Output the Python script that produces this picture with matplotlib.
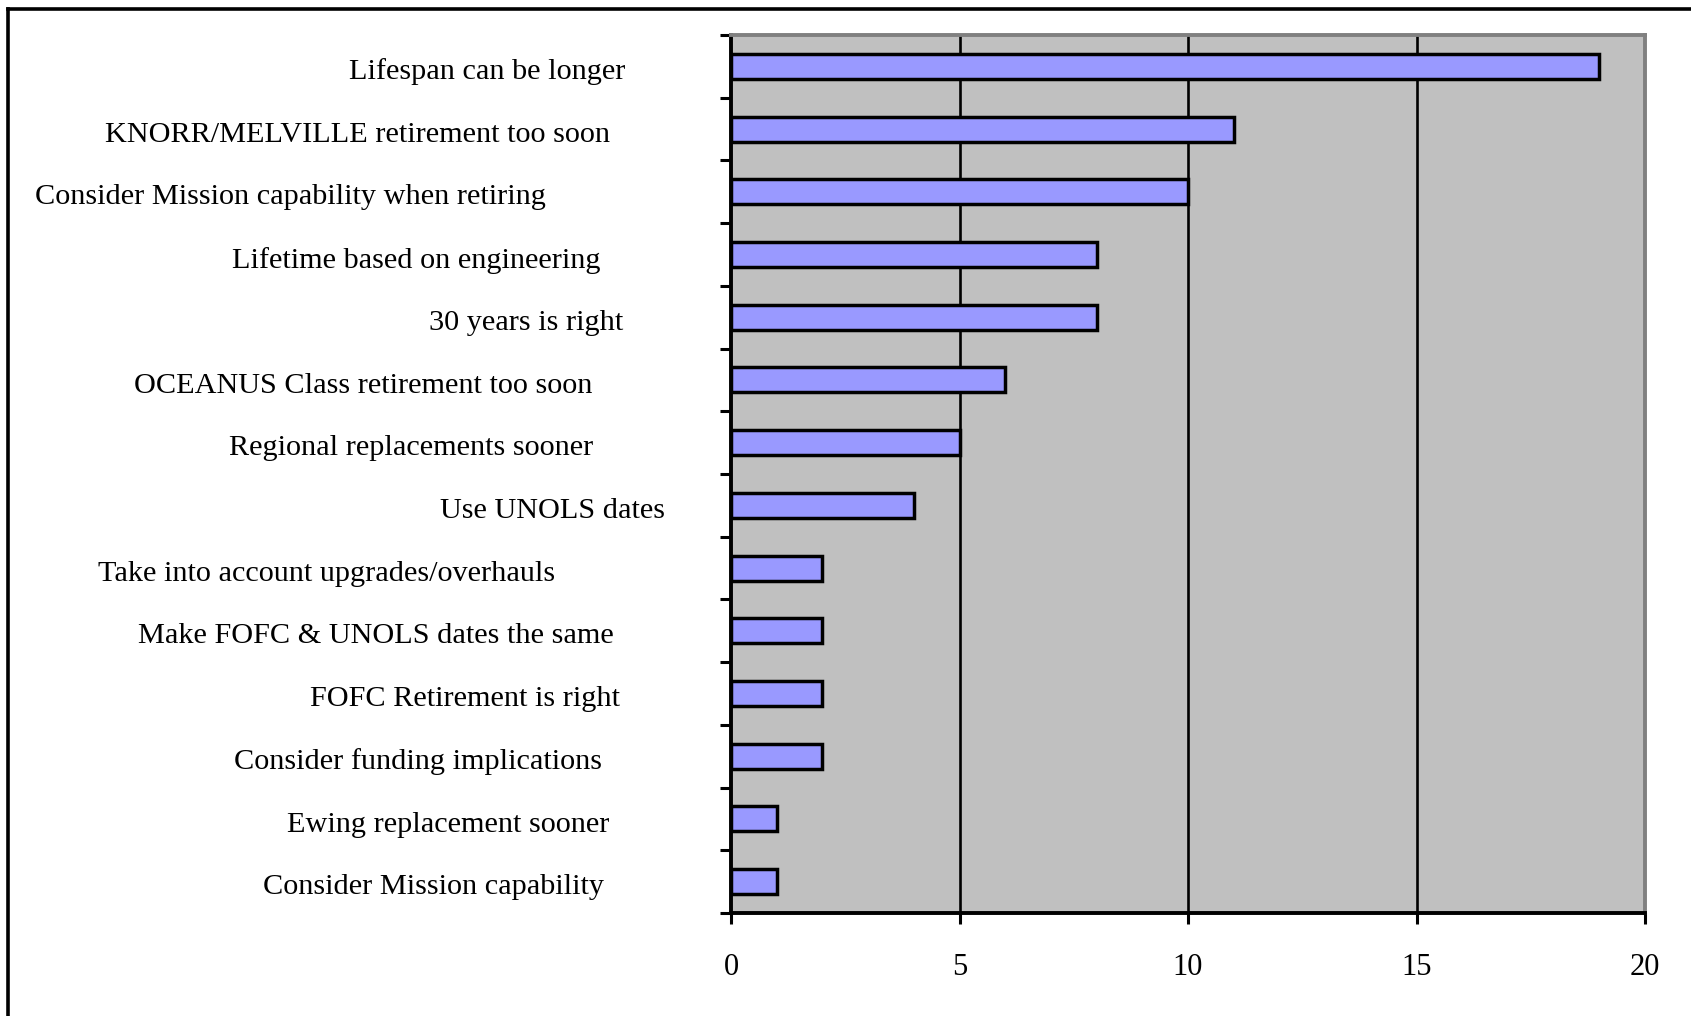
import matplotlib.pyplot as plt
from matplotlib.lines import Line2D
import numpy as np

plt.rcParams['font.family'] = ['Liberation Serif', 'DejaVu Serif']

comments = [
    "Lifespan can be longer",
    "KNORR/MELVILLE retirement too soon",
    "Consider Mission capability when retiring",
    "Lifetime based on engineering",
    "30 years is right",
    "OCEANUS Class retirement too soon",
    "Regional replacements sooner",
    "Use UNOLS dates",
    "Take into account upgrades/overhauls",
    "Make FOFC & UNOLS dates the same",
    "FOFC Retirement is right",
    "Consider funding implications",
    "Ewing replacement sooner",
    "Consider Mission capability",
]
counts = [19, 11, 10, 8, 8, 6, 5, 4, 2, 2, 2, 2, 1, 1]
xticks = [0, 5, 10, 15, 20]

# right edge of each category label, in figure pixels
label_right_px = [625, 610, 546, 601, 623, 592, 593, 665, 555, 614, 620, 602, 609, 604]

W, H = 1691, 1016
fig = plt.figure(figsize=(W / 100, H / 100), dpi=100)
ax_l, ax_r, ax_t, ax_b = 731, 1645, 35, 913
ax = fig.add_axes([ax_l / W, 1 - ax_b / H, (ax_r - ax_l) / W, (ax_b - ax_t) / H])

y = np.arange(len(comments))
ax.set_facecolor('#C0C0C0')
for v in xticks[1:-1]:
    ax.axvline(v, color='black', lw=1.9, zorder=1)
ax.barh(y, counts, height=0.4, color='#9999FF', edgecolor='black', linewidth=2.5, zorder=2)

ax.set_xlim(0, 20)
ax.set_ylim(len(comments) - 0.5, -0.5)

for s in ('left', 'bottom'):
    ax.spines[s].set_color('black')
    ax.spines[s].set_linewidth(2.8)
for s in ('top', 'right'):
    ax.spines[s].set_color('#808080')
    ax.spines[s].set_linewidth(2.8)

ax.set_xticks(xticks)
ax.set_xticklabels([str(v) for v in xticks], fontsize=22)
ax.tick_params(axis='x', direction='out', length=8, width=2.2, pad=21)

ax.set_yticks(np.arange(len(comments) + 1) - 0.5)
ax.set_yticklabels([])
ax.tick_params(axis='y', direction='out', length=8, width=2.2)

for yi, text, rx in zip(y, comments, label_right_px):
    ax.text((rx - ax_l) / (ax_r - ax_l), yi + 0.09, text, transform=ax.get_yaxis_transform(),
            ha='right', va='center', fontsize=21.8)

# frame along the left and top edges
fig.add_artist(Line2D([7.5 / W, 7.5 / W], [0, 1 - 8.5 / H], color='black', lw=2.6,
                      transform=fig.transFigure, solid_capstyle='projecting'))
fig.add_artist(Line2D([7.5 / W, 1], [1 - 8.5 / H, 1 - 8.5 / H], color='black', lw=2.6,
                      transform=fig.transFigure, solid_capstyle='projecting'))

fig.savefig('out.png', dpi=100)
